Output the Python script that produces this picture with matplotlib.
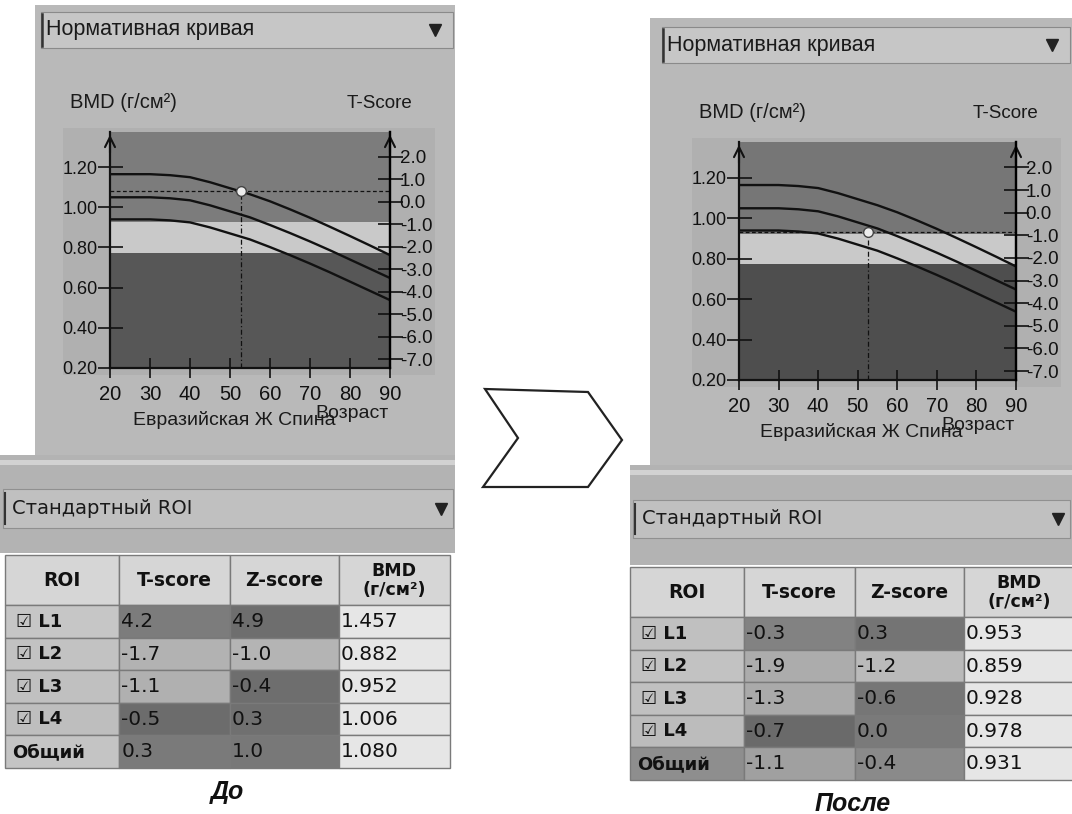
import matplotlib
matplotlib.use('Agg')
import matplotlib.pyplot as plt
from matplotlib.patches import Rectangle, Polygon

W, H = 1072, 814

# ---------------- data ----------------
ages = [20, 25, 30, 35, 40, 45, 50, 55, 60, 65, 70, 75, 80, 85, 90]
curve_upper = [1.165, 1.165, 1.165, 1.160, 1.150, 1.125, 1.095, 1.065, 1.030, 0.990, 0.948, 0.903, 0.857, 0.810, 0.762]
curve_mean = [1.050, 1.050, 1.050, 1.045, 1.035, 1.010, 0.980, 0.950, 0.912, 0.872, 0.830, 0.786, 0.740, 0.694, 0.648]
curve_lower = [0.940, 0.940, 0.940, 0.935, 0.925, 0.900, 0.870, 0.840, 0.802, 0.762, 0.720, 0.676, 0.630, 0.584, 0.538]
age_ticks = [20, 30, 40, 50, 60, 70, 80, 90]
bmd_ticks = [0.20, 0.40, 0.60, 0.80, 1.00, 1.20]
tscore_ticks = [2.0, 1.0, 0.0, -1.0, -2.0, -3.0, -4.0, -5.0, -6.0, -7.0]
young_adult_mean = 1.028
young_adult_sd = 0.112
osteopenia_band = [0.772, 0.925]

before_point = [52.7, 1.080]
after_point = [52.6, 0.931]

roi_names = ['L1', 'L2', 'L3', 'L4', 'Общий']
before_t = [4.2, -1.7, -1.1, -0.5, 0.3]
before_z = [4.9, -1.0, -0.4, 0.3, 1.0]
before_bmd = [1.457, 0.882, 0.952, 1.006, 1.080]
after_t = [-0.3, -1.9, -1.3, -0.7, -1.1]
after_z = [0.3, -1.2, -0.6, 0.0, -0.4]
after_bmd = [0.953, 0.859, 0.928, 0.978, 0.931]
col_headers = ['ROI', 'T-score', 'Z-score', 'BMD\n(г/см²)']

# cell shading (styling)
before_t_col = ['#7c7c7c', '#b2b2b2', '#b0b0b0', '#6c6c6c', '#7a7a7a']
before_z_col = ['#6e6e6e', '#b4b4b4', '#6e6e6e', '#707070', '#787878']
after_t_col = ['#828282', '#acacac', '#aaaaaa', '#6a6a6a', '#a0a0a0']
after_z_col = ['#747474', '#bababa', '#767676', '#7a7a7a', '#8a8a8a']
before_roi_col = ['#c6c6c6', '#c2c2c2', '#c0c0c0', '#bebebe', '#c4c4c4']
after_roi_col = ['#c0c0c0', '#c2c2c2', '#c0c0c0', '#bcbcbc', '#8e8e8e']

SANS = ['Liberation Sans', 'DejaVu Sans']
TAHOMA = ['DejaVu Sans']

fig = plt.figure(figsize=(W / 100, H / 100), dpi=100)
fig.patch.set_facecolor('white')

bg = fig.add_axes([0, 0, 1, 1], zorder=0)
bg.set_xlim(0, W)
bg.set_ylim(H, 0)
bg.axis('off')


def rect(x0, y0, x1, y1):
    return [x0 / W, 1 - y1 / H, (x1 - x0) / W, (y1 - y0) / H]


def box(x0, y0, x1, y1, fc, ec='none', lw=0, z=1):
    bg.add_patch(Rectangle((x0, y0), x1 - x0, y1 - y0, facecolor=fc, edgecolor=ec, lw=lw, zorder=z))


def draw_panel(g, point, t_vals, z_vals, b_vals, t_cols, z_cols, roi_cols, caption):
    # upper panel background
    box(g['px0'], g['py0'], g['px1'], g['py1'], '#b9b9b9')
    # dropdown header
    box(g['hx0'], g['hy0'], g['px1'] - 2, g['hy1'], '#c6c6c6', ec='#8a8a8a', lw=0.8, z=2)
    bg.plot([g['hx0'] + 1, g['hx0'] + 1], [g['hy0'] + 2, g['hy1'] - 2], color='#333333', lw=1.8, zorder=3)
    bg.text(g['hx0'] + 5, (g['hy0'] + g['hy1']) / 2, 'Нормативная кривая', family=SANS,
            fontsize=15.5, va='center', ha='left', color='#1a1a1a', zorder=3)
    bg.plot([g['px1'] - 20], [(g['hy0'] + g['hy1']) / 2], marker='v', color='#222222', ms=8, zorder=3)
    # box behind the chart
    box(g['ax0'] - 47, g['ay0'] - 4, g['ax1'] + 45, g['ay1'] + 7, '#b0b0b0', z=1.5)
    bg.text(g['ax0'] - 40, g['ay0'] - 30, 'BMD (г/см²)', family=SANS, fontsize=14.5,
            va='center', ha='left', color='#1a1a1a', zorder=3)
    bg.text(g['ax1'] + 22, g['ay0'] - 29, 'T-Score', family=SANS, fontsize=13.5,
            va='center', ha='right', color='#1a1a1a', zorder=3)
    xc = (g['ax0'] + g['ax1']) / 2
    bg.text(xc - 16, g['ay1'] + 52, 'Евразийская Ж Спина', family=SANS, fontsize=14,
            va='center', ha='center', color='#1a1a1a', zorder=3)
    bg.text(g['ax1'] - 1, g['ay1'] + 45, 'Возраст', family=SANS, fontsize=14,
            va='center', ha='right', color='#1a1a1a', zorder=4)

    # lower area
    box(g['lx0'], g['py1'], g['px1'], g['ty0'] - 2, '#b3b3b3')
    box(g['lx0'], g['py1'] + 5, g['px1'], g['py1'] + 10, '#d2d2d2', z=1.2)
    box(g['lx0'] + 3, g['ry0'], g['px1'] - 2, g['ry1'], '#c0c0c0', ec='#909090', lw=0.8, z=2)
    bg.plot([g['lx0'] + 5, g['lx0'] + 5], [g['ry0'] + 4, g['ry1'] - 4], color='#333333', lw=1.5, zorder=3)
    bg.text(g['lx0'] + 12, (g['ry0'] + g['ry1']) / 2, 'Стандартный ROI', family=TAHOMA,
            fontsize=14, va='center', ha='left', color='#1a1a1a', zorder=3)
    bg.plot([g['px1'] - 14], [(g['ry0'] + g['ry1']) / 2], marker='v', color='#222222', ms=8, zorder=3)

    # chart
    ax = fig.add_axes(rect(g['ax0'], g['ay0'], g['ax1'], g['ay1']), zorder=2)
    top = g['ytop']
    ax.set_xlim(20, 90)
    ax.set_ylim(0.2, top)
    ax.axhspan(0.2, osteopenia_band[0], color=g['c_dark'], lw=0, zorder=0)
    ax.axhspan(osteopenia_band[0], osteopenia_band[1], color='#c9c9c9', lw=0, zorder=0)
    ax.axhspan(osteopenia_band[1], top, color=g['c_mid'], lw=0, zorder=0)
    for c in (curve_upper, curve_mean, curve_lower):
        ax.plot(ages, c, color='#111111', lw=1.7, zorder=3)
    ax.plot([20, 90], [point[1], point[1]], color='#111111', lw=0.9, ls=(0, (3, 2)), zorder=2)
    ax.plot([point[0], point[0]], [0.2, point[1]], color='#111111', lw=0.9, ls=(0, (4, 2, 1, 2)), zorder=2)
    ax.plot([point[0]], [point[1]], 'o', mfc='#ececec', mec='#444444', ms=7, mew=1, zorder=5)
    ax.spines['top'].set_visible(False)
    for s in ('left', 'right', 'bottom'):
        ax.spines[s].set_linewidth(1.6)
        ax.spines[s].set_color('#111111')
    ax.set_xticks(age_ticks)
    ax.set_xticklabels([str(a) for a in age_ticks], family=SANS, fontsize=14.5)
    ax.set_yticks(bmd_ticks)
    ax.set_yticklabels(['%.2f' % b for b in bmd_ticks], family=SANS, fontsize=13)
    ax.tick_params(axis='x', direction='inout', length=14, width=1.2, pad=5, colors='#111111')
    ax.tick_params(axis='y', direction='inout', length=18, width=1.2, pad=0, colors='#111111')
    ax2 = ax.twinx()
    ax2.set_ylim((0.2 - young_adult_mean) / young_adult_sd, (top - young_adult_mean) / young_adult_sd)
    ax2.set_yticks(tscore_ticks)
    ax2.set_yticklabels(['%.1f' % t for t in tscore_ticks], family=SANS, fontsize=13.5)
    ax2.tick_params(axis='y', direction='inout', length=18, width=1.2, pad=-2, colors='#111111')
    for s in ('top', 'left', 'bottom'):
        ax2.spines[s].set_visible(False)
    ax2.spines['right'].set_linewidth(1.6)
    for xf in (0, 1):
        ax.annotate('', xy=(xf, 1.0), xycoords='axes fraction', xytext=(xf, 0.9),
                    arrowprops=dict(arrowstyle='->', lw=1.5, color='#111111', mutation_scale=18),
                    annotation_clip=False, zorder=6)

    # table
    rows = []
    for i, name in enumerate(roi_names):
        lab = ('☑ ' + name) if i < 4 else name
        rows.append([lab, '%.1f' % t_vals[i], '%.1f' % z_vals[i], '%.3f' % b_vals[i]])
    colours = [[roi_cols[i], t_cols[i], z_cols[i], '#e6e6e6'] for i in range(len(roi_names))]
    tx0, ty0, tx1, ty1 = g['tx0'], g['ty0'], g['tx1'], g['ty1']
    tab = bg.table(cellText=rows, colLabels=col_headers, cellColours=colours,
                   colColours=['#d6d6d6'] * 4, colWidths=[113, 109, 108, 110],
                   bbox=[tx0 / W, 1 - ty1 / H, (tx1 - tx0) / W, (ty1 - ty0) / H], zorder=3)
    tab.auto_set_font_size(False)
    for (r, c), cell in tab.get_celld().items():
        cell.set_edgecolor('#7a7a7a')
        cell.set_linewidth(1.0)
        t = cell.get_text()
        t.set_family(TAHOMA)
        t.set_color('#111111')
        if r == 0:
            cell.set_height(1.55)
            t.set_fontweight('bold')
            t.set_fontsize(13.5 if c < 3 else 12.5)
            t.set_linespacing(1.05)
        else:
            cell.set_height(1.0)
            cell.set_text_props(ha='left')
            if c == 0:
                t.set_fontweight('bold')
                t.set_fontsize(13)
                cell.PAD = 0.10 if r < 5 else 0.06
            else:
                t.set_fontsize(14.5)
                cell.PAD = 0.02
    bg.text((tx0 + tx1) / 2, ty1 + 24, caption, family=SANS, fontsize=18, fontweight='bold',
            fontstyle='italic', ha='center', va='center', color='#111111', zorder=3)


left_geom = dict(px0=35, py0=5, px1=455, py1=455, hx0=41, hy0=12, hy1=48, lx0=0,
                 ax0=110, ay0=132, ax1=390, ay1=368, ytop=1.375,
                 ry0=489, ry1=528, tx0=5, ty0=555, tx1=450, ty1=768,
                 c_mid='#7c7c7c', c_dark='#575757')
right_geom = dict(px0=650, py0=18, px1=1072, py1=465, hx0=662, hy0=27, hy1=63, lx0=630,
                  ax0=739, ay0=142, ax1=1016, ay1=380, ytop=1.378,
                  ry0=500, ry1=538, tx0=630, ty0=567, tx1=1075, ty1=780,
                  c_mid='#767676', c_dark='#4e4e4e')

draw_panel(left_geom, before_point, before_t, before_z, before_bmd,
           before_t_col, before_z_col, before_roi_col, 'До')
draw_panel(right_geom, after_point, after_t, after_z, after_bmd,
           after_t_col, after_z_col, after_roi_col, 'После')

# chevron between the panels
bg.add_patch(Polygon([(485, 389), (588, 392), (622, 440), (588, 487), (483, 487), (518, 438)],
                     closed=True, facecolor='white', edgecolor='#222222', lw=1.6, zorder=3))

fig.savefig('out.png', dpi=100, facecolor='white')
